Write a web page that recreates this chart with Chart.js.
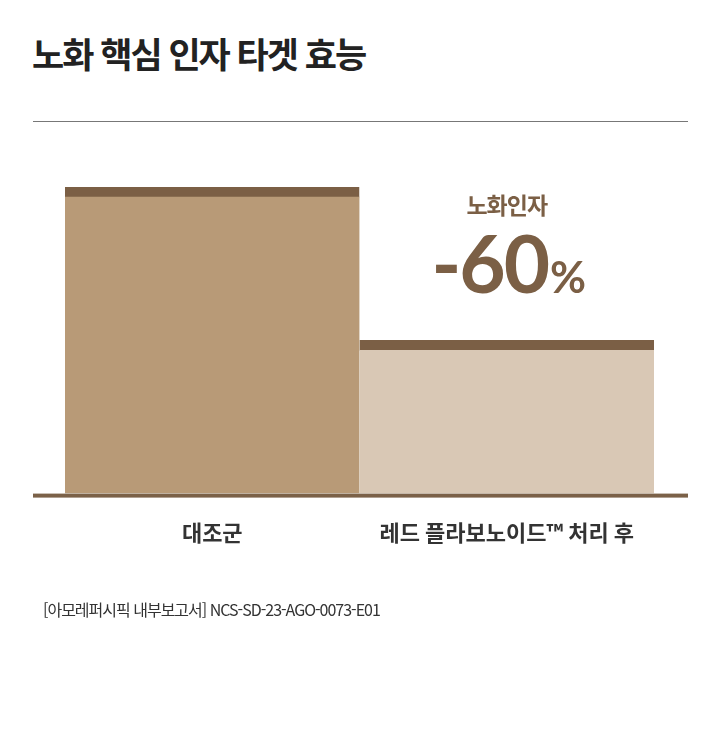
<!DOCTYPE html>
<html lang="ko">
<head>
<meta charset="utf-8">
<script src="https://cdn.jsdelivr.net/npm/chart.js@4"></script>
<style>
  html, body { margin: 0; padding: 0; background: #fff; }
  body { width: 720px; height: 743px; position: relative; overflow: hidden; font-family: "Noto Sans CJK KR", "Noto Sans", sans-serif; }
  #title { position: absolute; left: 32px; top: 32px; margin: 0; font-size: 35px; font-weight: 700; color: #222; letter-spacing: -2px; line-height: 1.2; }
  #rule { position: absolute; left: 33px; top: 121px; width: 655px; height: 1px; background: #777; }
  #wrap { position: absolute; left: 0; top: 0; width: 720px; height: 743px; }
  #note { position: absolute; left: 43px; top: 597px; font-size: 16px; color: #333; letter-spacing: -1px; }
</style>
</head>
<body>
<h1 id="title">노화 핵심 인자 타겟 효능</h1>
<div id="rule"></div>
<div id="wrap"><canvas id="chart"></canvas></div>
<div id="note">[아모레퍼시픽 내부보고서] NCS-SD-23-AGO-0073-E01</div>
<script>
// values (control = 100)
const categories = ['대조군', '레드 플라보노이드™ 처리 후'];
const values = [100, 50];
const barColors = ['#b89a77', '#d9c8b5'];
const capColor = '#7b5f45';
const calloutLabel = '노화인자';
const calloutValue = '-60';
const calloutUnit = '%';

// baseline drawn a little wider than the bars, plus the callout over the 2nd bar
const extras = {
    id: 'extras',
    afterDatasetsDraw(chart) {
        const ctx = chart.ctx;
        const area = chart.chartArea;
        const y0 = chart.scales.y.getPixelForValue(0);
        ctx.save();
        ctx.fillStyle = '#7b6148';
        ctx.fillRect(area.left - 32, y0, area.right - area.left + 66, 4);

        const cx = chart.scales.x.getPixelForValue(1);
        ctx.fillStyle = capColor;
        ctx.textAlign = 'center';
        ctx.textBaseline = 'alphabetic';
        ctx.font = '700 23px "Noto Sans CJK KR"';
        ctx.letterSpacing = '-1px';
        ctx.fillText(calloutLabel, cx, 214);

        ctx.letterSpacing = '-2px';
        ctx.font = '700 80px Lato';
        const w1 = ctx.measureText(calloutValue).width;
        ctx.font = '700 44px Lato';
        const w2 = ctx.measureText(calloutUnit).width;
        const startX = cx - (w1 + w2) / 2;
        ctx.textAlign = 'left';
        ctx.font = '700 80px Lato';
        ctx.fillText(calloutValue, startX, 293);
        ctx.font = '700 44px Lato';
        ctx.fillText(calloutUnit, startX + w1 + 2, 293);
        ctx.restore();
    }
};

new Chart(document.getElementById('chart'), {
    type: 'bar',
    data: {
        labels: categories,
        datasets: [{
            data: values,
            backgroundColor: barColors,
            borderColor: capColor,
            borderWidth: { top: 10, left: 0, right: 0, bottom: 0 },
            borderSkipped: 'bottom',
            categoryPercentage: 1,
            barPercentage: 1
        }]
    },
    options: {
        responsive: true,
        maintainAspectRatio: false,
        animation: false,
        layout: { padding: { left: 65, right: 66, top: 187, bottom: 171 } },
        plugins: { legend: { display: false }, tooltip: { enabled: false } },
        scales: {
            x: {
                grid: { display: false, drawTicks: false },
                border: { display: false },
                ticks: {
                    color: '#333',
                    padding: 26,
                    font: { family: '"Noto Sans CJK KR"', size: 22, weight: '700' }
                }
            },
            y: {
                display: false,
                min: 0,
                max: 100
            }
        }
    },
    plugins: [extras]
});
</script>
</body>
</html>
